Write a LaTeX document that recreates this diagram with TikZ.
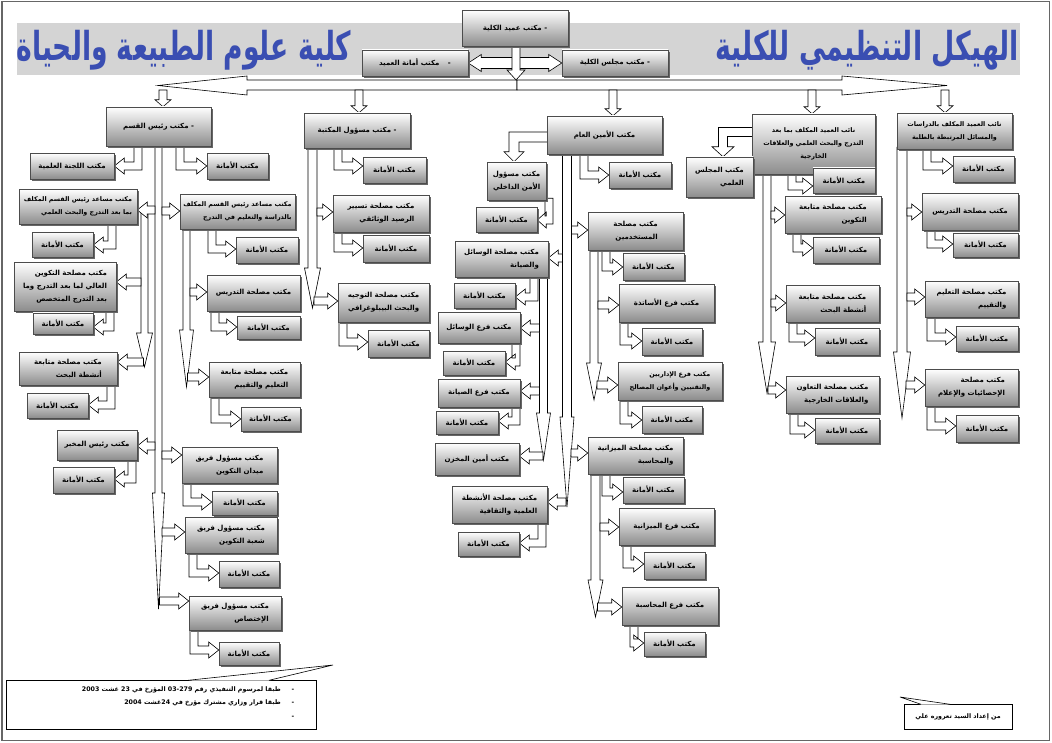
\documentclass[tikz,border=0pt]{standalone}
\usepackage{fontspec}
\usepackage{graphicx}
\usetikzlibrary{shadows,calc}
\newfontfamily\arabicfont[Script=Arabic]{DejaVu Sans}
\TeXXeTstate=1
\newcommand\artx[1]{\beginR #1\endR}
\newcommand\boxfont{\arabicfont\bfseries\fontsize{7}{13}\selectfont}
\newcommand\boxfontS{\arabicfont\bfseries\fontsize{6.4}{13}\selectfont}
\newcommand\notefont{\arabicfont\bfseries\fontsize{6.3}{8}\selectfont}
\newcommand\titlefont{\arabicfont\bfseries\fontsize{30}{36}\selectfont}
\definecolor{titleblue}{RGB}{58,78,178}
\definecolor{bandgray}{RGB}{212,212,212}
\pgfdeclarelayer{bgzero}
\pgfdeclarelayer{arrows}
\pgfsetlayers{bgzero,arrows,main}
\def\asw{4pt}\def\ahh{8pt}\def\ahl{10pt}
% box node: [opt]{name}{x1}{y1}{x2}{y2}{text}
\newcommand\zbx[7][]{\node[box,minimum width={(#5-#3)*1pt},minimum height={(#6-#4)*1pt},#1] (#2) at ({(#3+#5)/2},{(#4+#6)/2}) {#7};}
\newcommand\zDR[4]{\path[blk] let \p1=(#1.south),\p2=(#2.west) in
 ({#3pt-\asw},{\y1+2pt}) -- ({#3pt-\asw},{-#4pt-\asw}) -- ({\x2-\ahl},{-#4pt-\asw}) -- ({\x2-\ahl},{-#4pt-\ahh}) -- (\x2,{-#4pt}) -- ({\x2-\ahl},{-#4pt+\ahh}) -- ({\x2-\ahl},{-#4pt+\asw}) -- ({#3pt+\asw},{-#4pt+\asw}) -- ({#3pt+\asw},{\y1+2pt}) -- cycle;}
\newcommand\zDL[4]{\path[blk] let \p1=(#1.south),\p2=(#2.east) in
 ({#3pt+\asw},{\y1+2pt}) -- ({#3pt+\asw},{-#4pt-\asw}) -- ({\x2+\ahl},{-#4pt-\asw}) -- ({\x2+\ahl},{-#4pt-\ahh}) -- (\x2,{-#4pt}) -- ({\x2+\ahl},{-#4pt+\ahh}) -- ({\x2+\ahl},{-#4pt+\asw}) -- ({#3pt-\asw},{-#4pt+\asw}) -- ({#3pt-\asw},{\y1+2pt}) -- cycle;}
\newcommand\zHR[3]{\path[blk] let \p1=(#1),\p2=(#2.west) in
 (\x1,{-#3pt+\asw}) -- ({\x2-\ahl},{-#3pt+\asw}) -- ({\x2-\ahl},{-#3pt+\ahh}) -- (\x2,{-#3pt}) -- ({\x2-\ahl},{-#3pt-\ahh}) -- ({\x2-\ahl},{-#3pt-\asw}) -- (\x1,{-#3pt-\asw}) -- cycle;}
\newcommand\zHL[3]{\path[blk] let \p1=(#1),\p2=(#2.east) in
 (\x1,{-#3pt+\asw}) -- ({\x2+\ahl},{-#3pt+\asw}) -- ({\x2+\ahl},{-#3pt+\ahh}) -- (\x2,{-#3pt}) -- ({\x2+\ahl},{-#3pt-\ahh}) -- ({\x2+\ahl},{-#3pt-\asw}) -- (\x1,{-#3pt-\asw}) -- cycle;}
\newcommand\zVD[4]{\path[blk] let \p1=(#1),\p2=(#2) in
 ({\x2-\asw},{\y1+2pt}) -- ({\x2-\asw},{\y2+#3pt}) -- ({\x2-#4pt},{\y2+#3pt}) -- (\x2,\y2) -- ({\x2+#4pt},{\y2+#3pt}) -- ({\x2+\asw},{\y2+#3pt}) -- ({\x2+\asw},{\y1+2pt}) -- cycle;}
\newcommand\zVN[4]{\path[blk] let \p1=(#1),\p2=(#2.north) in
 ({\x1-\asw},\y1) -- ({\x1-\asw},{\y2+#3pt}) -- ({\x1-#4pt},{\y2+#3pt}) -- (\x1,\y2) -- ({\x1+#4pt},{\y2+#3pt}) -- ({\x1+\asw},{\y2+#3pt}) -- ({\x1+\asw},\y1) -- cycle;}
\newcommand\zLD[6]{\path[blk] let \p1=(#1.west),\p2=(#2.north) in
 ({\x1+2pt},{-#3pt+\asw}) -- ({#4pt-\asw},{-#3pt+\asw}) -- ({#4pt-\asw},{\y2+#5pt}) -- ({#4pt-#6pt},{\y2+#5pt}) -- (#4pt,\y2) -- ({#4pt+#6pt},{\y2+#5pt}) -- ({#4pt+\asw},{\y2+#5pt}) -- ({#4pt+\asw},{-#3pt-\asw}) -- ({\x1+2pt},{-#3pt-\asw}) -- cycle;}
\newcommand\zDH[3]{\path[blk] let \p1=(#1.east),\p2=(#2.west) in
 (\x1,{-#3pt}) -- ({\x1+\ahl},{-#3pt+\ahh}) -- ({\x1+\ahl},{-#3pt+\asw}) -- ({\x2-\ahl},{-#3pt+\asw}) -- ({\x2-\ahl},{-#3pt+\ahh}) -- (\x2,{-#3pt}) -- ({\x2-\ahl},{-#3pt-\ahh}) -- ({\x2-\ahl},{-#3pt-\asw}) -- ({\x1+\ahl},{-#3pt-\asw}) -- ({\x1+\ahl},{-#3pt-\ahh}) -- cycle;}
\newcommand\amana{\artx{مكتب الأمانة}}
\begin{document}
\begin{tikzpicture}[x=1pt,y=-1pt,
 box/.style={draw=black!70, line width=0.5pt, top color=white, bottom color=black!45,
   drop shadow={shadow xshift=1.8pt, shadow yshift=-1.8pt, fill=black!60, opacity=1},
   inner sep=1pt, align=right, font=\boxfont, text=black},
 blk/.style={draw=black, fill=white, line width=0.6pt, line join=miter},
 plainbox/.style={draw=black, line width=0.7pt, fill=white,
   drop shadow={shadow xshift=1pt, shadow yshift=-1pt, fill=black!50, opacity=1}}]
\useasboundingbox (0,0) rectangle (1052,743);
\begin{pgfonlayer}{bgzero}
\fill[white] (0,0) rectangle (1052,743);
\fill[bandgray] (17,23) rectangle (1020,75);
\end{pgfonlayer}
\draw[black!60, line width=1.2pt] (2,1.5) rectangle (1049.5,740.5);
% titles
\node[inner sep=0, text=titleblue] (title1) at (184,50) {\titlefont\resizebox*{335pt}{40pt}{\beginR كلية علوم الطبيعة والحياة\endR}};
\node[inner sep=0, text=titleblue] (title2) at (867,50) {\titlefont\resizebox*{304pt}{40pt}{\beginR الهيكل التنظيمي للكلية\endR}};

% ---------- boxes ----------
\zbx{dean}{462}{10}{568}{46}{\artx{- مكتب عميد الكلية}}
\zbx{amanaD}{362}{50}{468}{76}{\artx{-\hspace{6pt} مكتب أمانة العميد}}
\zbx{majlis}{562}{50}{668}{76}{\artx{- مكتب مجلس الكلية}}
% column 1
\zbx{rq}{106}{107}{211}{146}{\artx{- مكتب رئيس القسم}}
\zbx{lajna}{30}{153}{114}{179}{\artx{مكتب اللجنة العلمية}}
\zbx{rqA}{207}{153}{268}{179}{\amana}
\zbx[font=\boxfontS]{msL}{19}{189}{137}{224}{\artx{مكتب مساعد رئيس القسم المكلف}\\\artx{بما بعد التدرج والبحث العلمي}}
\zbx[font=\boxfontS]{msR}{180}{194}{295}{229}{\artx{مكتب مساعد رئيس القسم المكلف}\\\artx{بالدراسة والتعليم في التدرج}}
\zbx{msLA}{32}{232}{93}{257}{\amana}
\zbx{msRA}{236}{237}{298}{263}{\amana}
\zbx{tkw}{14}{262}{116}{311}{\artx{مكتب مصلحة التكوين}\\\artx{العالي لما بعد التدرج وما}\\\artx{بعد التدرج المتخصص}}
\zbx{tdrA1}{207}{275}{300}{311}{\artx{مكتب مصلحة التدريس}}
\zbx{tkwA}{33}{313}{93}{334}{\amana}
\zbx{tdrAa}{237}{316}{300}{339}{\amana}
\zbx{bhth}{19}{352}{117}{385}{\artx{مكتب مصلحة متابعة}\\\artx{أنشطة البحث}}
\zbx{bhthA}{27}{393}{88}{418}{\amana}
\zbx{tqm}{209}{362}{300}{397}{\artx{مكتب مصلحة متابعة}\\\artx{التعليم والتقييم}}
\zbx{tqmA}{241}{407}{300}{431}{\amana}
\zbx{mkh}{57}{430}{137}{460}{\artx{مكتب رئيس المخبر}}
\zbx{mkhA}{53}{467}{114}{493}{\amana}
\zbx{frA}{182}{447}{277}{483}{\artx{مكتب مسؤول فريق}\\\artx{ميدان التكوين}}
\zbx{frAa}{212}{491}{277}{515}{\amana}
\zbx{frB}{185}{517}{277}{553}{\artx{مكتب مسؤول فريق}\\\artx{شعبة التكوين}}
\zbx{frBa}{219}{561}{279}{587}{\amana}
\zbx{frC}{189}{596}{281}{630}{\artx{مكتب مسؤول فريق}\\\artx{الإختصاص}}
\zbx{frCa}{219}{642}{279}{665}{\amana}
% column 2
\zbx{lib}{304}{113}{410}{148}{\artx{- مكتب مسؤول المكتبة}}
\zbx{libA}{363}{157}{426}{183}{\amana}
\zbx{tsyr}{333}{195}{429}{232}{\artx{مكتب مصلحة تسيير}\\\artx{الرصيد الوثائقي}}
\zbx{tsyrA}{363}{235}{429}{262}{\amana}
\zbx{twjh}{338}{283}{429}{322}{\artx{مكتب مصلحة التوجيه}\\\artx{والبحث البيبلوغرافي}}
\zbx{twjhA}{368}{330}{429}{357}{\amana}
% column 3
\zbx{amin}{547}{116}{662}{154}{\artx{مكتب الأمين العام}}
\zbx{aminA}{609}{162}{671}{188}{\amana}
\zbx{amn}{487}{162}{546}{200}{\artx{مكتب مسؤول}\\\artx{الأمن الداخلي}}
\zbx{amnA}{476}{207}{537}{232}{\amana}
\zbx{wsl}{455}{241}{548}{277}{\artx{مكتب مصلحة الوسائل}\\\artx{والصيانة}}
\zbx{wslA}{454}{283}{515}{308}{\amana}
\zbx{frw}{438}{312}{520}{343}{\artx{مكتب فرع الوسائل}}
\zbx{frwA}{443}{351}{505}{375}{\amana}
\zbx{frs}{438}{379}{520}{407}{\artx{مكتب فرع الصيانة}}
\zbx{frsA}{436}{411}{498}{434}{\amana}
\zbx{mkz}{435}{443}{519}{475}{\artx{مكتب أمين المخزن}}
\zbx{nsh}{452}{486}{547}{523}{\artx{مكتب مصلحة الأنشطة}\\\artx{العلمية والثقافية}}
\zbx{nshA}{458}{532}{519}{556}{\amana}
\zbx{mst}{588}{212}{683}{250}{\artx{مكتب مصلحة}\\\artx{المستخدمين}}
\zbx{mstA}{623}{253}{684}{280}{\amana}
\zbx{ast}{619}{284}{714}{322}{\artx{مكتب فرع الأساتذة}}
\zbx{astA}{642}{328}{702}{355}{\amana}
\zbx[font=\boxfontS]{idr}{618}{362}{722}{400}{\artx{مكتب فرع الإداريين}\\\artx{والتقنيين وأعوان المصالح}}
\zbx{idrA}{642}{406}{702}{433}{\amana}
\zbx{mzn}{588}{437}{683}{474}{\artx{مكتب مصلحة الميزانية}\\\artx{والمحاسبة}}
\zbx{mznA}{623}{477}{684}{503}{\amana}
\zbx{frm}{619}{508}{714}{545}{\artx{مكتب فرع الميزانية}}
\zbx{frmA}{644}{552}{705}{579}{\amana}
\zbx{frh}{622}{587}{718}{625}{\artx{مكتب فرع المحاسبة}}
\zbx{frhA}{644}{632}{705}{656}{\amana}
% column 4
\zbx[align=center,font=\boxfontS]{nbA}{752}{114}{875}{174}{\artx{نائب العميد المكلف بما بعد}\\\artx{التدرج والبحث العلمي والعلاقات}\\\artx{الخارجية}}
\zbx{mjl}{686}{157}{753}{197}{\artx{مكتب المجلس}\\\artx{العلمي}}
\zbx{nbAa}{813}{168}{875}{193}{\amana}
\zbx{mtk}{785}{196}{881}{233}{\artx{مكتب مصلحة متابعة}\\\artx{التكوين}}
\zbx{mtkA}{813}{237}{879}{263}{\amana}
\zbx{mbh}{786}{285}{879}{322}{\artx{مكتب مصلحة متابعة}\\\artx{أنشطة البحث}}
\zbx{mbhA}{815}{328}{879}{355}{\amana}
\zbx{taw}{786}{376}{879}{413}{\artx{مكتب مصلحة التعاون}\\\artx{والعلاقات الخارجية}}
\zbx{tawA}{815}{418}{879}{443}{\amana}
% column 5
\zbx[align=center,font=\boxfontS]{nbB}{897}{113}{1012}{149}{\artx{نائب العميد المكلف بالدراسات}\\\artx{والمسائل المرتبطة بالطلبة}}
\zbx{nbBa}{953}{156}{1014}{182}{\amana}
\zbx{tdrB}{922}{193}{1018}{230}{\artx{مكتب مصلحة التدريس}}
\zbx{tdrBa}{953}{233}{1018}{257}{\amana}
\zbx{tqB}{925}{281}{1018}{317}{\artx{مكتب مصلحة التعليم}\\\artx{والتقييم}}
\zbx{tqBa}{956}{326}{1018}{351}{\amana}
\zbx{ihs}{925}{369}{1018}{406}{\artx{مكتب مصلحة}\\\artx{الإحصائيات والإعلام}}
\zbx{ihsA}{956}{415}{1018}{442}{\amana}

% ---------- coordinates ----------
\coordinate (barL) at (158,85.5); \coordinate (barR) at (947,85.5);
\coordinate (dtip) at (516,80);
\coordinate (b1) at (163,90); \coordinate (b2) at (359,90); \coordinate (b3) at (613,90);
\coordinate (b4) at (812,90); \coordinate (b5) at (945,90);
\coordinate (t1tip) at (158.5,609); \coordinate (t1L) at (155,0); \coordinate (t1R) at (162,0); \coordinate (t1Rb) at (159.5,0);
\coordinate (t2s) at (144.5,214); \coordinate (t2tip) at (144.5,367); \coordinate (t2L) at (141,0); \coordinate (t2Lb) at (143.5,0);
\coordinate (t3tip) at (186.5,387); \coordinate (t3R) at (190,0); \coordinate (t3Rb) at (187.5,0);
\coordinate (t4tip) at (312.5,308); \coordinate (t4R) at (317,0); \coordinate (t4Rb) at (314,0);
\coordinate (t5tip) at (567,507); \coordinate (t5R) at (571.5,0); \coordinate (t5L) at (562.5,0); \coordinate (t5R2) at (571,0); \coordinate (t5L2) at (566,0);
\coordinate (t6tip) at (543.5,460); \coordinate (t6L) at (539.5,0); \coordinate (t6Lb) at (543,0);
\coordinate (t7tip) at (594,400); \coordinate (t7R) at (598,0); \coordinate (t7Rb) at (597,0);
\coordinate (t8tip) at (595.5,617); \coordinate (t8R) at (600,0); \coordinate (t8Rb) at (597.5,0);
\coordinate (t9tip) at (767,393); \coordinate (t9R) at (771,0); \coordinate (t9Rb) at (768,0);
\coordinate (t10tip) at (902,418); \coordinate (t10R) at (907,0); \coordinate (t10Rb) at (906,0);

% ---------- arrows ----------
\begin{pgfonlayer}{arrows}
\path[blk] (517,80) -- (247,80) -- (247,76) -- (barL) -- (247,95) -- (247,90) -- (517,90) -- cycle;
\path[blk] (517,80) -- (842,80) -- (842,76) -- (barR) -- (842,95) -- (842,90) -- (517,90) -- cycle;
\begin{scope}\def\asw{5.5pt}\def\ahh{8.5pt}\def\ahl{13pt}\zDH{amanaD}{majlis}{63}\end{scope}
\zVD{dean.south}{dtip}{10}{9}
\zVN{b1}{rq}{7}{8} \zVN{b2}{lib}{7}{8} \zVN{b3}{amin}{7}{8} \zVN{b4}{nbA}{7}{8} \zVN{b5}{nbB}{7}{8}
% column 1
\begin{scope}\def\asw{3.5pt}
\zVD{rq.south}{t1tip}{116}{6}
\zVD{t2s}{t2tip}{34}{8}
\zVD{msR.south}{t3tip}{57}{7}
\end{scope}
\zHL{t1L}{msL}{210} \zHR{t1R}{msR}{211} \zHL{t1L}{mkh}{446}
\zHR{t1R}{frA}{455} \zHR{t1R}{frB}{532} \zHR{t1Rb}{frC}{601}
\zHL{t2L}{tkw}{282} \zHL{t2Lb}{bhth}{362}
\zHR{t3R}{tdrA1}{292} \zHR{t3Rb}{tqm}{377}
\zDL{rq}{lajna}{138}{166} \zDR{rq}{rqA}{180}{166}
\zDL{msL}{msLA}{112}{245} \zDL{tkw}{tkwA}{110}{327} \zDL{bhth}{bhthA}{111}{405} \zDL{mkh}{mkhA}{132}{479}
\zDR{msR}{msRA}{212}{249} \zDR{tdrA1}{tdrAa}{215}{327} \zDR{tqm}{tqmA}{215}{419}
\zDR{frA}{frAa}{187}{502} \zDR{frB}{frBa}{193}{573} \zDR{frC}{frCa}{194}{650}
% column 2
\begin{scope}\def\asw{4.5pt}\zVD{lib.south}{t4tip}{40}{8}\end{scope}
\zHR{t4R}{tsyr}{212} \zHR{t4Rb}{twjh}{301}
\zDR{lib}{libA}{338}{166} \zDR{tsyr}{tsyrA}{338}{248} \zDR{twjh}{twjhA}{343}{342}
% column 3
\begin{scope}\def\asw{4.5pt}\zVD{amin.south}{t5tip}{90}{7}\zVD{mzn.south}{t8tip}{37}{7.5}\end{scope}
\zVD{wsl.south}{t6tip}{47}{7}
\zVD{mst.south}{t7tip}{37}{7.5}
\zHR{t5R}{mst}{230} \zHL{t5L}{wsl}{258} \zHR{t5R2}{mzn}{453} \zHL{t5L2}{nsh}{502}
\zHL{t6L}{frw}{328} \zHL{t6L}{frs}{391} \zHL{t6Lb}{mkz}{456}
\zHR{t7R}{ast}{305} \zHR{t7Rb}{idr}{385}
\zHR{t8R}{frm}{527} \zHR{t8Rb}{frh}{607}
\zDR{amin}{aminA}{584}{175}
\begin{scope}\def\asw{5pt}\zLD{amin}{amn}{137}{514}{10}{10}\end{scope}
\begin{scope}\def\ahl{9pt}\zDL{amn}{amnA}{549}{220}\end{scope}
\zDL{wsl}{wslA}{534}{297} \zDL{frw}{frwA}{516}{362} \zDL{frs}{frsA}{516}{421} \zDL{nsh}{nshA}{542}{543}
\zDR{mst}{mstA}{606}{267} \zDR{ast}{astA}{624}{341} \zDR{idr}{idrA}{624}{420}
\zDR{mzn}{mznA}{606}{492} \zDR{frm}{frmA}{627}{564} \zDR{frh}{frhA}{634}{643}
% column 4
\zVD{nbA.south}{t9tip}{51}{8.5}
\begin{scope}\def\asw{4.5pt}\zLD{nbA}{mjl}{132}{723}{10}{11}\end{scope}
\zHR{t9R}{mtk}{215} \zHR{t9R}{mbh}{303} \zHR{t9Rb}{taw}{390}
\zDR{nbA}{nbAa}{792}{186} \zDR{mtk}{mtkA}{797}{248} \zDR{mbh}{mbhA}{793}{338} \zDR{taw}{tawA}{794}{430}
% column 5
\begin{scope}\def\asw{5pt}\zVD{nbB.south}{t10tip}{66}{8.5}\end{scope}
\zHR{t10R}{tdrB}{212} \zHR{t10R}{tqB}{297} \zHR{t10Rb}{ihs}{385}
\zDR{nbB}{nbBa}{927}{166} \zDR{tdrB}{tdrBa}{931}{244} \zDR{tqB}{tqBa}{931}{337} \zDR{ihs}{ihsA}{931}{426}
\end{pgfonlayer}

% ---------- footer ----------
\node[plainbox, minimum width=310pt, minimum height=49pt, inner sep=0pt] (note) at (161,704.5) {};
\coordinate (noteptr) at (333,665);
\path[fill=white] (188.5,680.6) -- (noteptr) -- (268.5,680.6) -- cycle;
\draw[line width=0.6pt] (188,680.3) -- (noteptr) -- (269,680.3);
\node[font=\notefont, anchor=east, inner sep=0pt] (n1) at (281,690) {\artx{طبقا لمرسوم التنفيذي رقم \beginL 03-279\endL{} المؤرخ في 23 غشت 2003}};
\node[font=\notefont, anchor=east, inner sep=0pt] (n2) at (281,703) {\artx{طبقا قرار وزاري مشترك مؤرخ في 24غشت 2004}};
\node[font=\notefont, inner sep=0pt] (d1) at (293,690) {-};
\node[font=\notefont, inner sep=0pt] (d2) at (293,703) {-};
\node[font=\notefont, inner sep=0pt] (d3) at (293,717) {-};
\node[plainbox, minimum width=108pt, minimum height=25pt, font=\notefont] (auth) at (958,716.5) {\artx{من إعداد السيد تعروره علي}};
\coordinate (authptr) at (900,697);
\path[fill=white] (921,704.6) -- (authptr) -- (950,704.6) -- cycle;
\draw[line width=0.6pt] (921,704.3) -- (authptr) -- (950,704.3);
\end{tikzpicture}
\end{document}
